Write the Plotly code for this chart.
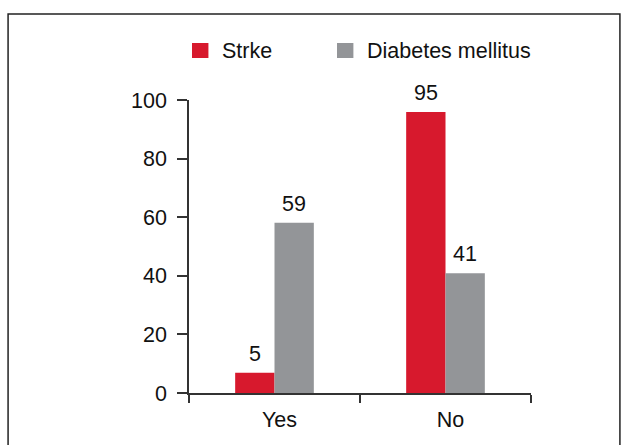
import plotly.graph_objects as go

categories = ["Yes", "No"]
series_names = ["Strke", "Diabetes mellitus"]
stroke_values = [6.9, 95.9]
diabetes_values = [58.1, 40.9]
stroke_labels = ["5", "95"]
diabetes_labels = ["59", "41"]
y_ticks = [0, 20, 40, 60, 80, 100]

RED = "#D7192D"
GRAY = "#939598"
FONT = "Liberation Sans, Arial, sans-serif"
FS = 21.5

fig = go.Figure()
fig.add_trace(go.Bar(x=categories, y=stroke_values, name=series_names[0],
                     marker=dict(color=RED, line=dict(width=0))))
fig.add_trace(go.Bar(x=categories, y=diabetes_values, name=series_names[1],
                     marker=dict(color=GRAY, line=dict(width=0))))

annotations = []
for vals, labels, shift in [(stroke_values, stroke_labels, -19.5), (diabetes_values, diabetes_labels, 19.5)]:
    for c, v, t in zip(categories, vals, labels):
        annotations.append(dict(x=c, y=v, text=t, showarrow=False, xshift=shift,
                                yanchor="bottom", yshift=5,
                                font=dict(size=FS, color="#111111", family=FONT)))

# manual legend (square swatches + text)
legend_colors = [RED, GRAY]
legend_sq_x = [0.0088, 0.4327]
legend_txt_x = [0.0906, 0.5146]
shapes = []
for name, col, sx, tx in zip(series_names, legend_colors, legend_sq_x, legend_txt_x):
    shapes.append(dict(type="rect", xref="paper", yref="paper",
                       x0=sx, x1=sx + 0.048, y0=1.1433, y1=1.1945,
                       line=dict(width=0), fillcolor=col))
    annotations.append(dict(xref="paper", yref="paper", x=tx, y=1.1689,
                            xanchor="left", yanchor="middle", text=name, showarrow=False,
                            font=dict(size=FS, color="#111111", family=FONT)))

shapes.append(dict(type="rect", xref="paper", yref="paper",
                   x0=-0.529, x1=1.260, y0=-0.25, y1=1.2935,
                   line=dict(color="#222222", width=1.5), fillcolor="rgba(0,0,0,0)",
                   layer="below"))

fig.update_layout(
    width=628, height=445,
    margin=dict(l=189, r=97, t=100, b=52),
    paper_bgcolor="white", plot_bgcolor="white",
    barmode="group", bargap=0.54, bargroupgap=0,
    font=dict(family=FONT, size=FS, color="#111111"),
    showlegend=False,
    annotations=annotations,
    xaxis=dict(showline=True, linecolor="#333333", linewidth=1.5, ticks="outside",
               tickson="boundaries", ticklen=8, tickcolor="#333333", tickwidth=1.5,
               showgrid=False, zeroline=False, ticklabelstandoff=6, ticklabelshift=5,
               tickfont=dict(size=FS, family=FONT, color="#111111")),
    yaxis=dict(range=[0, 100], tickvals=y_ticks, showline=True, linecolor="#333333",
               linewidth=1.5, ticks="outside", ticklen=10, tickcolor="#333333",
               tickwidth=1.5, showgrid=False, zeroline=False, ticklabelstandoff=6,
               tickfont=dict(size=FS, family=FONT, color="#111111")),
    shapes=shapes,
)

fig.write_html("out.html")
